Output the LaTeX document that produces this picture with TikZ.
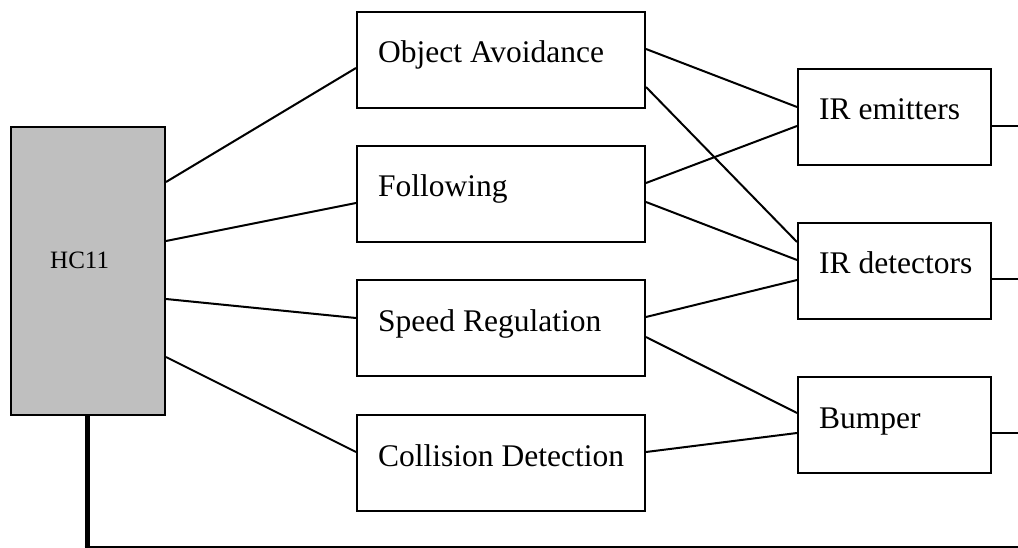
\documentclass[tikz,border=0pt]{standalone}
\usepackage{fontspec}
\setmainfont{Liberation Serif}
\usetikzlibrary{calc}
\begin{document}
\begin{tikzpicture}[x=1pt,y=-1pt,
  box/.style={draw=black, line width=2pt, inner sep=0pt, anchor=north west},
  lbl/.style={anchor=base west, inner sep=0pt, font=\fontsize{31.5}{36}\selectfont},
  conn/.style={line width=2pt},
  every node/.append style={text=black}]
\useasboundingbox (0,0) rectangle (1018,548);
% HC11
\node[box, fill=black!25, minimum width=154pt, minimum height=288pt] (hc) at (10,126) {};
\node[anchor=base west, inner sep=0pt, font=\fontsize{25}{30}\selectfont] (hct) at (50,269) {HC11};
% middle boxes
\node[box, minimum width=288pt, minimum height=96pt] (oa) at (356,11) {};
\node[lbl] (oat) at (378,63) {Object Avoidance};
\node[box, minimum width=288pt, minimum height=96pt] (fo) at (356,145) {};
\node[lbl] (fot) at (378,197) {Following};
\node[box, minimum width=288pt, minimum height=96pt] (sr) at (356,279) {};
\node[lbl] (srt) at (378,331) {Speed Regulation};
\node[box, minimum width=288pt, minimum height=96pt] (cd) at (356,414) {};
\node[lbl] (cdt) at (378,466) {Collision Detection};
% right boxes
\node[box, minimum width=193pt, minimum height=96pt] (ie) at (797,68) {};
\node[lbl] (iet) at (819,120) {IR emitters};
\node[box, minimum width=193pt, minimum height=96pt] (id) at (797,222) {};
\node[lbl] (idt) at (819,273) {IR detectors};
\node[box, minimum width=193pt, minimum height=96pt] (bu) at (797,376) {};
\node[lbl] (but) at (819,428) {Bumper};
% free ends
\coordinate (ieR) at (1018,126);
\coordinate (idR) at (1018,279);
\coordinate (buR) at (1018,433);
\coordinate (corner) at (87,546.5);
\coordinate (bottomR) at (1018,546.5);
% HC11 to middle
\draw[conn] ($(hc.north east)+(0,56)$) -- ($(oa.north west)+(0,57)$);
\draw[conn] ($(hc.north east)+(0,115)$) -- ($(fo.north west)+(0,58)$);
\draw[conn] ($(hc.north east)+(0,173)$) -- ($(sr.north west)+(0,39)$);
\draw[conn] ($(hc.north east)+(0,231)$) -- ($(cd.north west)+(0,38)$);
% middle to right
\draw[conn] ($(oa.north east)+(0,38)$) -- ($(ie.north west)+(0,39)$);
\draw[conn] ($(oa.north east)+(0,76)$) -- ($(id.north west)+(0,20)$);
\draw[conn] ($(fo.north east)+(0,38)$) -- ($(ie.north west)+(0,58)$);
\draw[conn] ($(fo.north east)+(0,57)$) -- ($(id.north west)+(0,38)$);
\draw[conn] ($(sr.north east)+(0,38)$) -- ($(id.north west)+(0,58)$);
\draw[conn] ($(sr.north east)+(0,58)$) -- ($(bu.north west)+(0,37)$);
\draw[conn] ($(cd.north east)+(0,38)$) -- ($(bu.north west)+(0,57)$);
% right outputs
\draw[conn] ($(ie.north east)+(0,58)$) -- (ieR);
\draw[conn] ($(id.north east)+(0,57)$) -- (idR);
\draw[conn] ($(bu.north east)+(0,57)$) -- (buR);
% bottom bus
\draw[line width=5pt] (hc.south -| corner) -- ($(corner)+(0,1)$);
\draw[line width=2pt] ($(corner)+(-2.5,0)$) -- (bottomR);
\end{tikzpicture}
\end{document}
